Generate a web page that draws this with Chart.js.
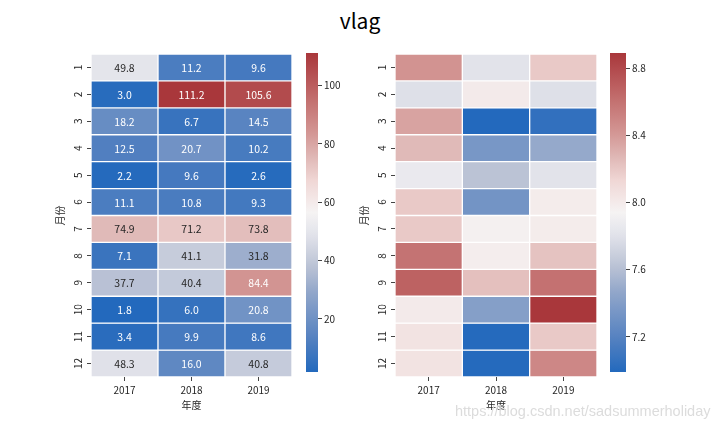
<!DOCTYPE html>
<html>
<head>
<meta charset="utf-8">
<script src="https://cdn.jsdelivr.net/npm/chart.js@4/dist/chart.umd.min.js"></script>
<style>
  html, body { margin: 0; padding: 0; background: #fff; }
  #wrap { position: relative; width: 720px; height: 432px; overflow: hidden; }
  canvas { position: absolute; }
  #title { position: absolute; left: 0; width: 720px; top: 5px; text-align: center;
           font-family: 'Noto Sans CJK SC', 'Noto Sans', sans-serif; font-size: 21px; color: #000; }
  #wm { position: absolute; left: 455px; top: 403px; font-family: 'Liberation Sans', Arial, sans-serif;
        font-size: 14.5px; color: #dcdcdc; white-space: nowrap; }
</style>
</head>
<body>
<div id="wrap">
  <div id="title">vlag</div>
  <canvas id="hmL" width="254" height="370" style="left:40px;top:45px;"></canvas>
  <canvas id="cbL" width="46" height="335" style="left:306px;top:45px;"></canvas>
  <canvas id="hmR" width="255" height="370" style="left:344px;top:45px;"></canvas>
  <canvas id="cbR" width="50" height="335" style="left:610px;top:45px;"></canvas>
  <div id="wm">https://blog.csdn.net/sadsummerholiday</div>
</div>
<script>
// ---------- data ----------
const years = ['2017', '2018', '2019'];
const months = ['1', '2', '3', '4', '5', '6', '7', '8', '9', '10', '11', '12'];
const xTitle = '年度';
const yTitle = '月份';

// left heatmap (annotated values), one array per year
const left2017 = [49.8, 3.0, 18.2, 12.5, 2.2, 11.1, 74.9, 7.1, 37.7, 1.8, 3.4, 48.3];
const left2018 = [11.2, 111.2, 6.7, 20.7, 9.6, 10.8, 71.2, 41.1, 40.4, 6.0, 9.9, 16.0];
const left2019 = [9.6, 105.6, 14.5, 10.2, 2.6, 9.3, 73.8, 31.8, 84.4, 20.8, 8.6, 40.8];

// right heatmap (values estimated from colours), one array per year
const right2017 = [8.43, 7.79, 8.36, 8.26, 7.86, 8.19, 8.19, 8.59, 8.68, 8.00, 8.05, 8.05];
const right2018 = [7.81, 8.00, 6.99, 7.35, 7.62, 7.33, 7.96, 7.98, 8.23, 7.41, 7.00, 7.00];
const right2019 = [8.19, 7.79, 7.05, 7.48, 7.81, 7.99, 7.99, 8.22, 8.60, 8.89, 8.19, 8.49];

// colorbar tick labels
const leftCbTicks = [20, 40, 60, 80, 100];
const rightCbTicks = [7.2, 7.6, 8.0, 8.4, 8.8];

// ---------- style ----------
const FONT = "'Noto Sans CJK SC', 'Noto Sans', sans-serif";
const TXT = '#262626';
const TICKC = '#444';
const cmapStops = [
  [0.00, [35, 105, 189]],
  [0.10, [82, 128, 192]],
  [0.25, [145, 166, 202]],
  [0.33, [186, 194, 213]],
  [0.43, [226, 227, 234]],
  [0.50, [245, 243, 243]],
  [0.60, [240, 215, 213]],
  [0.67, [224, 185, 183]],
  [0.75, [211, 150, 148]],
  [0.87, [192, 105, 105]],
  [1.00, [169, 55, 59]]
];
function cmapRGB(t) {
  t = Math.max(0, Math.min(1, t));
  for (let i = 1; i < cmapStops.length; i++) {
    const [p1, c1] = cmapStops[i];
    const [p0, c0] = cmapStops[i - 1];
    if (t <= p1) {
      const f = (t - p0) / (p1 - p0);
      return c0.map((v, k) => Math.round(v + (c1[k] - v) * f));
    }
  }
  return cmapStops[cmapStops.length - 1][1];
}
const rgbStr = c => `rgb(${c[0]},${c[1]},${c[2]})`;
function luminance(c) {
  const lin = c.map(v => { v /= 255; return v <= 0.03928 ? v / 12.92 : Math.pow((v + 0.055) / 1.055, 2.4); });
  return 0.2126 * lin[0] + 0.7152 * lin[1] + 0.0722 * lin[2];
}

// rotated y tick labels + annotations
const heatPlugin = {
  id: 'heatPlugin',
  afterDatasetsDraw(chart) {
    const ctx = chart.ctx;
    const cfg = chart.options.plugins.heatPlugin;
    if (cfg.annotate) {
      ctx.save();
      ctx.font = `10.5px ${FONT}`;
      ctx.textAlign = 'center';
      ctx.textBaseline = 'middle';
      chart.data.datasets.forEach((ds, i) => {
        const meta = chart.getDatasetMeta(i);
        meta.data.forEach((el, j) => {
          const v = cfg.cols[j][i];
          const c = cmapRGB((v - cfg.vmin) / (cfg.vmax - cfg.vmin));
          ctx.fillStyle = luminance(c) > 0.408 ? TXT : '#ffffff';
          const p = el.getCenterPoint();
          ctx.fillText(v.toFixed(1), p.x, p.y + 0.5);
        });
      });
      ctx.restore();
    }
  },
  afterDraw(chart) {
    const ctx = chart.ctx;
    const ys = chart.scales.y;
    ctx.save();
    ctx.font = `10px ${FONT}`;
    ctx.fillStyle = TXT;
    ctx.textAlign = 'center';
    ctx.textBaseline = 'middle';
    ys.ticks.forEach((t, i) => {
      ctx.save();
      ctx.translate(chart.chartArea.left - 13, ys.getPixelForValue(t.value));
      ctx.rotate(-Math.PI / 2);
      ctx.fillText(months[i], 0, 0);
      ctx.restore();
    });
    ctx.restore();
  }
};

function makeHeatmap(id, cols, annotate) {
  const flat = cols.flat();
  const vmin = Math.min(...flat), vmax = Math.max(...flat);
  const datasets = months.map((m, i) => ({
    label: m,
    data: years.map(() => 1),
    backgroundColor: years.map((y, j) => rgbStr(cmapRGB((cols[j][i] - vmin) / (vmax - vmin)))),
    borderColor: '#ffffff',
    borderWidth: 1,
    borderSkipped: false,
    categoryPercentage: 1,
    barPercentage: 1,
    stack: 'cells'
  }));
  new Chart(document.getElementById(id), {
    type: 'bar',
    data: { labels: years, datasets },
    plugins: [heatPlugin],
    options: {
      responsive: false,
      animation: false,
      layout: { padding: { top: 7, right: 2, left: 0, bottom: 0 } },
      plugins: {
        legend: { display: false },
        tooltip: { enabled: false },
        heatPlugin: { annotate, cols, vmin, vmax }
      },
      scales: {
        x: {
          stacked: true,
          offset: true,
          grid: { offset: false, drawOnChartArea: false, tickLength: 4, color: TICKC },
          border: { display: false },
          ticks: { color: TXT, font: { size: 10, family: FONT }, padding: 3, maxRotation: 0 },
          title: { display: true, text: xTitle, color: TXT, font: { size: 10, family: FONT }, padding: { top: 0, bottom: 4 } },
          afterFit: s => { s.height = 38; }
        },
        y: {
          stacked: true,
          reverse: true,
          min: 0,
          max: months.length,
          afterBuildTicks: s => { s.ticks = months.map((m, i) => ({ value: i + 0.5 })); },
          ticks: { color: 'rgba(0,0,0,0)', font: { size: 10, family: FONT }, callback: (v, i) => months[i] },
          grid: { drawOnChartArea: false, tickLength: 4, color: TICKC },
          border: { display: false },
          title: { display: true, text: yTitle, color: TXT, font: { size: 10, family: FONT }, padding: { top: 14, bottom: 0 } },
          afterFit: s => { s.width = 51; }
        }
      }
    }
  });
}

function makeColorbar(id, cols, tickVals, digits) {
  const flat = cols.flat();
  const vmin = Math.min(...flat), vmax = Math.max(...flat);
  new Chart(document.getElementById(id), {
    type: 'bar',
    data: {
      labels: ['cb'],
      datasets: [{
        data: [[vmin, vmax]],
        borderWidth: 0,
        categoryPercentage: 1,
        barPercentage: 1,
        backgroundColor: (c) => {
          const ch = c.chart;
          if (!ch.chartArea) return '#ccc';
          const ys = ch.scales.y;
          const y0 = ys.getPixelForValue(vmin), y1 = ys.getPixelForValue(vmax);
          const g = ch.ctx.createLinearGradient(0, y0, 0, y1);
          for (let k = 0; k <= 40; k++) g.addColorStop(k / 40, rgbStr(cmapRGB(k / 40)));
          return g;
        }
      }]
    },
    options: {
      responsive: false,
      animation: false,
      layout: { padding: { top: 7, right: 0, left: 0, bottom: 3 } },
      plugins: { legend: { display: false }, tooltip: { enabled: false } },
      scales: {
        x: { display: false },
        y: {
          position: 'right',
          min: vmin,
          max: vmax,
          afterBuildTicks: s => { s.ticks = tickVals.map(v => ({ value: v })); },
          ticks: { color: TXT, font: { size: 10, family: FONT }, padding: 2, callback: v => Number(v).toFixed(digits) },
          grid: { drawOnChartArea: false, tickLength: 4, color: TICKC },
          border: { display: false },
          afterFit: s => { s.width = 34; }
        }
      }
    }
  });
}

const leftCols = [left2017, left2018, left2019];
const rightCols = [right2017, right2018, right2019];
makeHeatmap('hmL', leftCols, true);
makeColorbar('cbL', leftCols, leftCbTicks, 0);
makeHeatmap('hmR', rightCols, false);
makeColorbar('cbR', rightCols, rightCbTicks, 1);
</script>
</body>
</html>
